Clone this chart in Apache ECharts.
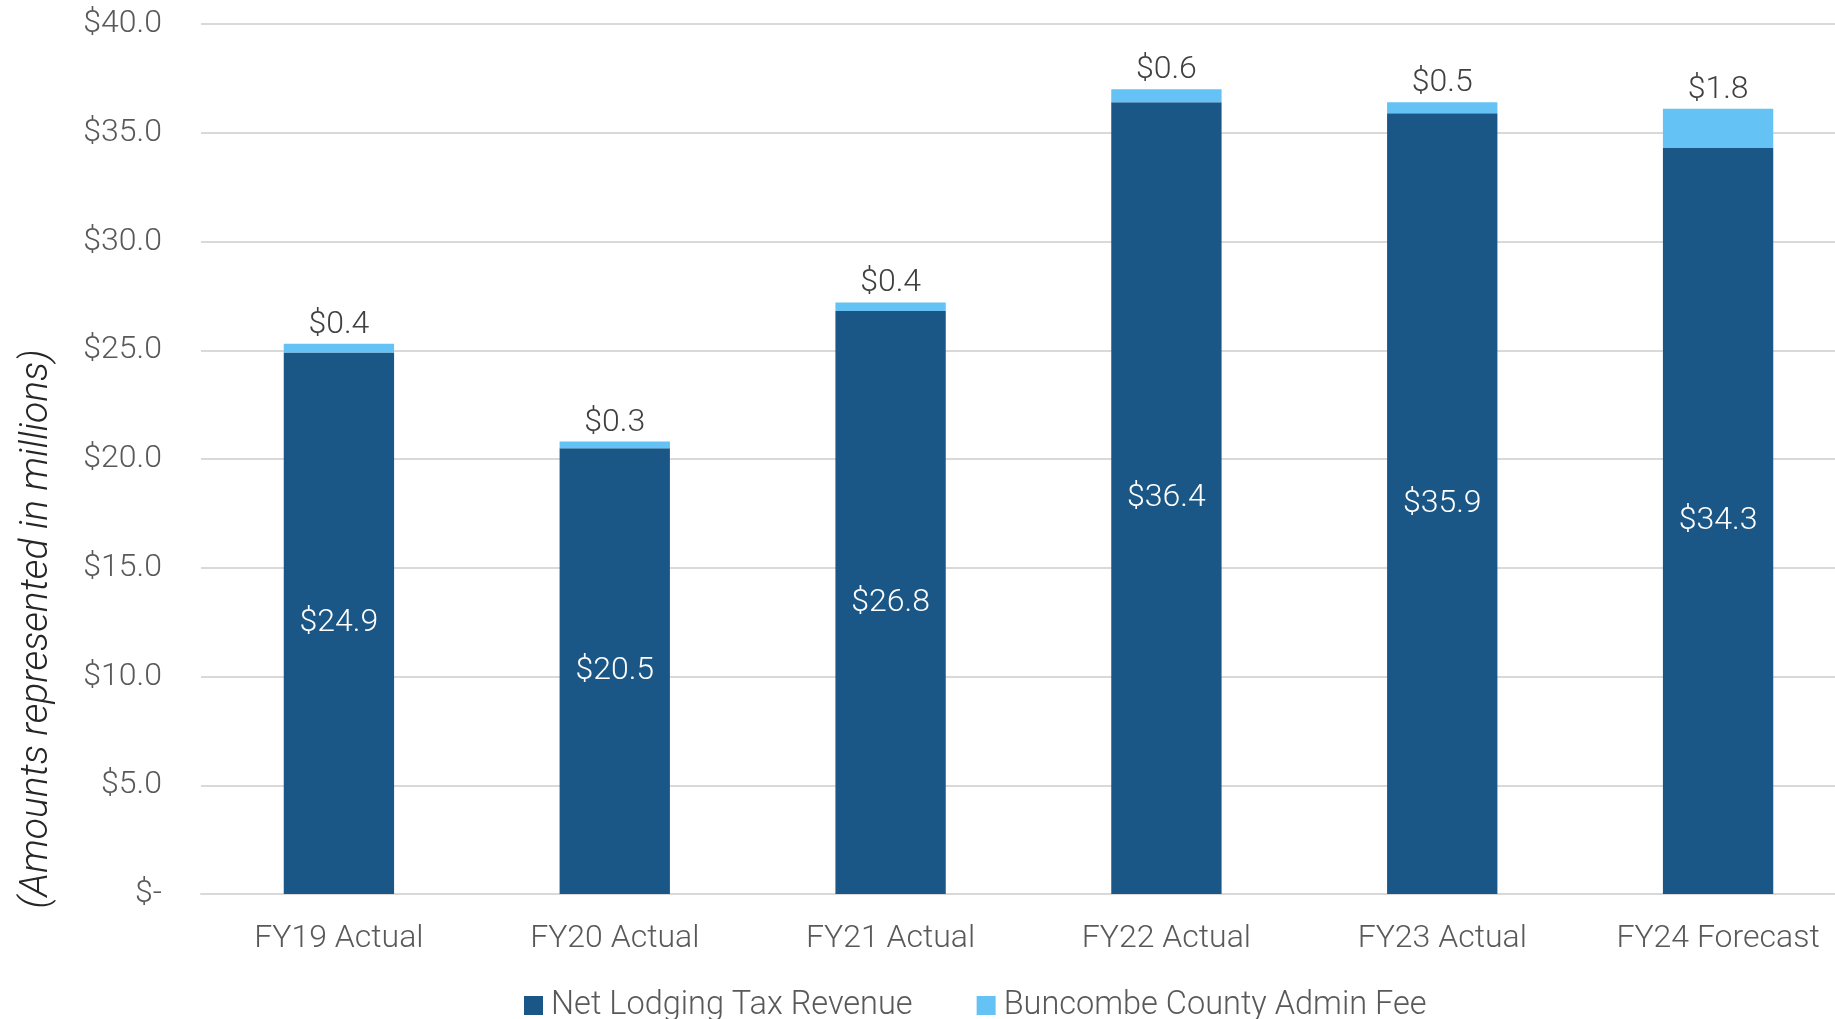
<!DOCTYPE html>
<html>
<head>
<meta charset="utf-8">
<script src="https://cdn.jsdelivr.net/npm/echarts@6/dist/echarts.min.js"></script>
<style>
  html, body { margin: 0; padding: 0; background: #fff; }
  #main { width: 1835px; height: 1019px; }
</style>
</head>
<body>
<div id="main"></div>
<script>
// 数据
var categories = ['FY19 Actual', 'FY20 Actual', 'FY21 Actual', 'FY22 Actual', 'FY23 Actual', 'FY24 Forecast'];
var netLodging = [24.9, 20.5, 26.8, 36.4, 35.9, 34.3];
var adminFee = [0.4, 0.3, 0.4, 0.6, 0.5, 1.8];
var seriesNames = ['Net Lodging Tax Revenue', 'Buncombe County Admin Fee'];
var yTitle = '(Amounts represented in millions)';

var font = 'Roboto, "Liberation Sans", sans-serif';

var chart = echarts.init(document.getElementById('main'));

function money(v) {
  return v === 0 ? '$-' : '$' + v.toFixed(1);
}

var option = {
  animation: false,
  textStyle: { fontFamily: font, fontWeight: 300 },
  // 绘图区比画布宽, 右侧被裁掉
  grid: {
    left: 201,
    width: 1655,
    top: 24,
    bottom: 125,
    outerBoundsMode: 'none',
    containLabel: false
  },
  // 图例
  legend: {
    top: 984,
    left: 519,
    itemWidth: 19,
    itemHeight: 19,
    itemGap: 64,
    icon: 'rect',
    textStyle: { fontSize: 32.5, fontWeight: 300, color: '#595959', fontFamily: font, padding: [0, 0, 0, 3] },
    data: seriesNames
  },
  xAxis: {
    type: 'category',
    data: categories,
    axisTick: { show: false },
    axisLine: { lineStyle: { color: '#d9d9d9', width: 2 } },
    axisLabel: { fontSize: 32, fontWeight: 300, color: '#595959', margin: 29 }
  },
  yAxis: {
    type: 'value',
    min: 0,
    max: 40,
    interval: 5,
    axisLabel: {
      fontSize: 32,
      fontWeight: 300,
      color: '#595959',
      margin: 39,
      formatter: money
    },
    splitLine: { lineStyle: { color: '#d9d9d9', width: 2 } }
  },
  series: [
    {
      name: seriesNames[0],
      type: 'bar',
      stack: 'total',
      barWidth: '40%',
      data: netLodging,
      itemStyle: { color: '#1A5786' },
      label: {
        show: true,
        position: 'inside',
        color: '#ffffff',
        fontSize: 32,
        fontWeight: 300,
        formatter: function (p) { return money(p.value); }
      }
    },
    {
      name: seriesNames[1],
      type: 'bar',
      stack: 'total',
      barWidth: '40%',
      data: adminFee,
      itemStyle: { color: '#64C2F4' },
      label: {
        show: true,
        position: 'top',
        distance: 3,
        color: '#404040',
        fontSize: 32,
        fontWeight: 300,
        formatter: function (p) { return money(p.value); }
      }
    }
  ],
  // 纵轴标题
  graphic: [{
    type: 'text',
    x: 37,
    y: 629,
    rotation: Math.PI / 2,
    style: {
      text: yTitle,
      fontSize: 39,
      fontStyle: 'italic',
      fontWeight: 300,
      fontFamily: font,
      fill: '#262626',
      align: 'center',
      verticalAlign: 'middle'
    }
  }]
};

chart.setOption(option);
</script>
</body>
</html>
